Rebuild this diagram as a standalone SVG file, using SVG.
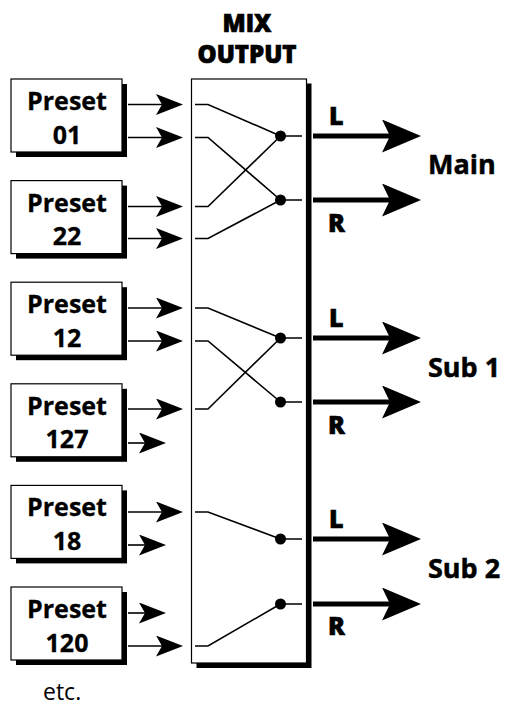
<svg xmlns="http://www.w3.org/2000/svg" width="508" height="706" viewBox="0 0 508 706">
<style>
  text { font-family: "Open Sans", "DejaVu Sans", sans-serif; fill: #000; }
  .lbl { font-weight: 700; font-size: 25px; text-anchor: middle; stroke: #000; stroke-width: 0.3; }
  .hdr { font-weight: 800; font-size: 24px; text-anchor: middle; stroke: #000; stroke-width: 0.7; }
  .ch { font-weight: 800; font-size: 25px; stroke: #000; stroke-width: 0.6; }
  .out { font-weight: 700; font-size: 27px; stroke: #000; stroke-width: 0.5; }
  .etc { font-weight: 400; font-size: 23px; }
  .box { fill: #fff; stroke: #000; stroke-width: 1.2; }
  .shadow { fill: #000; }
  .in { stroke: #000; stroke-width: 1.6; fill: none; marker-end: url(#ah); }
  .wire { stroke: #000; stroke-width: 1.6; fill: none; }
  .outl { stroke: #000; stroke-width: 5; fill: none; marker-end: url(#bh); }
  .dot { fill: #000; }
</style>
<defs>
  <marker id="ah" markerUnits="userSpaceOnUse" markerWidth="27" markerHeight="21" refX="20" refY="10.5" orient="auto" viewBox="0 0 27 21">
    <path d="M0,0 L27,10.5 L0,21 L6,10.5 Z" fill="#000"/>
  </marker>
  <marker id="bh" markerUnits="userSpaceOnUse" markerWidth="39" markerHeight="33" refX="23" refY="16.5" orient="auto" viewBox="0 0 39 33">
    <path d="M0,0 L39,16.5 L0,33 L8,16.5 Z" fill="#000"/>
  </marker>
</defs>

<g id="mix-output">
  <text class="hdr" x="247" y="31.7">MIX</text>
  <text class="hdr" x="247" y="63">OUTPUT</text>
  <rect class="shadow" x="196.5" y="83.5" width="115" height="584.5"/>
  <rect class="box" x="191.5" y="79" width="115" height="584"/>
</g>

<g id="preset-01">
  <rect class="shadow" x="16" y="84" width="111" height="73"/>
  <rect class="box" x="11" y="79" width="111" height="73"/>
  <text class="lbl" x="67" y="110">Preset</text>
  <text class="lbl" x="67" y="143.5">01</text>
</g>
<g id="preset-22">
  <rect class="shadow" x="16" y="185.6" width="111" height="73"/>
  <rect class="box" x="11" y="180.6" width="111" height="73"/>
  <text class="lbl" x="67" y="211.6">Preset</text>
  <text class="lbl" x="67" y="245.1">22</text>
</g>
<g id="preset-12">
  <rect class="shadow" x="16" y="287.2" width="111" height="73"/>
  <rect class="box" x="11" y="282.2" width="111" height="73"/>
  <text class="lbl" x="67" y="313.2">Preset</text>
  <text class="lbl" x="67" y="346.7">12</text>
</g>
<g id="preset-127">
  <rect class="shadow" x="16" y="388.8" width="111" height="73"/>
  <rect class="box" x="11" y="383.8" width="111" height="73"/>
  <text class="lbl" x="67" y="414.8">Preset</text>
  <text class="lbl" x="67" y="448.3">127</text>
</g>
<g id="preset-18">
  <rect class="shadow" x="16" y="490.4" width="111" height="73"/>
  <rect class="box" x="11" y="485.4" width="111" height="73"/>
  <text class="lbl" x="67" y="516.4">Preset</text>
  <text class="lbl" x="67" y="549.9">18</text>
</g>
<g id="preset-120">
  <rect class="shadow" x="16" y="592" width="111" height="73"/>
  <rect class="box" x="11" y="587" width="111" height="73"/>
  <text class="lbl" x="67" y="618">Preset</text>
  <text class="lbl" x="67" y="651.5">120</text>
</g>

<g id="connectors">
  <line class="in" x1="128" y1="104.5" x2="176" y2="104.5"/>
  <line class="in" x1="128" y1="137.5" x2="176" y2="137.5"/>
  <line class="in" x1="128" y1="206.5" x2="176" y2="206.5"/>
  <line class="in" x1="128" y1="238.5" x2="176" y2="238.5"/>
  <line class="in" x1="128" y1="308" x2="176" y2="308"/>
  <line class="in" x1="128" y1="341" x2="176" y2="341"/>
  <line class="in" x1="128" y1="409" x2="176" y2="409"/>
  <line class="in" x1="128" y1="443" x2="159" y2="443"/>
  <line class="in" x1="128" y1="512" x2="176" y2="512"/>
  <line class="in" x1="128" y1="545" x2="159" y2="545"/>
  <line class="in" x1="128" y1="613" x2="159" y2="613"/>
  <line class="in" x1="128" y1="646" x2="176" y2="646"/>

  <path class="wire" d="M195,104.5 H208 L280.5,136"/>
  <path class="wire" d="M195,137.5 H208 L280.5,200"/>
  <path class="wire" d="M195,206.5 H208 L280.5,136"/>
  <path class="wire" d="M195,238.5 H208 L280.5,200"/>
  <path class="wire" d="M195,308 H208 L280.5,338"/>
  <path class="wire" d="M195,341 H208 L280.5,402"/>
  <path class="wire" d="M195,409 H208 L280.5,338"/>
  <path class="wire" d="M195,512 H208 L280.5,539"/>
  <path class="wire" d="M195,646 H208 L280.5,604"/>

  <path class="wire" d="M280.5,136 H302 M280.5,200 H302 M280.5,338 H302 M280.5,402 H302 M280.5,539 H302 M280.5,604 H302"/>
  <circle class="dot" cx="280.5" cy="136" r="5.5"/>
  <circle class="dot" cx="280.5" cy="200" r="5.5"/>
  <circle class="dot" cx="280.5" cy="338" r="5.5"/>
  <circle class="dot" cx="280.5" cy="402" r="5.5"/>
  <circle class="dot" cx="280.5" cy="539" r="5.5"/>
  <circle class="dot" cx="280.5" cy="604" r="5.5"/>

  <line class="outl" x1="313" y1="136" x2="405" y2="136"/>
  <line class="outl" x1="313" y1="200" x2="405" y2="200"/>
  <line class="outl" x1="313" y1="338" x2="405" y2="338"/>
  <line class="outl" x1="313" y1="402" x2="405" y2="402"/>
  <line class="outl" x1="313" y1="539" x2="405" y2="539"/>
  <line class="outl" x1="313" y1="604" x2="405" y2="604"/>
</g>

<g id="output-labels">
  <text class="ch" x="329" y="125">L</text>
  <text class="ch" x="328" y="232">R</text>
  <text class="out" x="428" y="174.3">Main</text>
  <text class="ch" x="329" y="327.3">L</text>
  <text class="ch" x="328" y="434">R</text>
  <text class="out" x="428" y="376.7">Sub 1</text>
  <text class="ch" x="329" y="528.3">L</text>
  <text class="ch" x="328" y="635">R</text>
  <text class="out" x="428" y="578.3">Sub 2</text>
</g>

<text class="etc" x="43" y="699.5">etc.</text>
</svg>
